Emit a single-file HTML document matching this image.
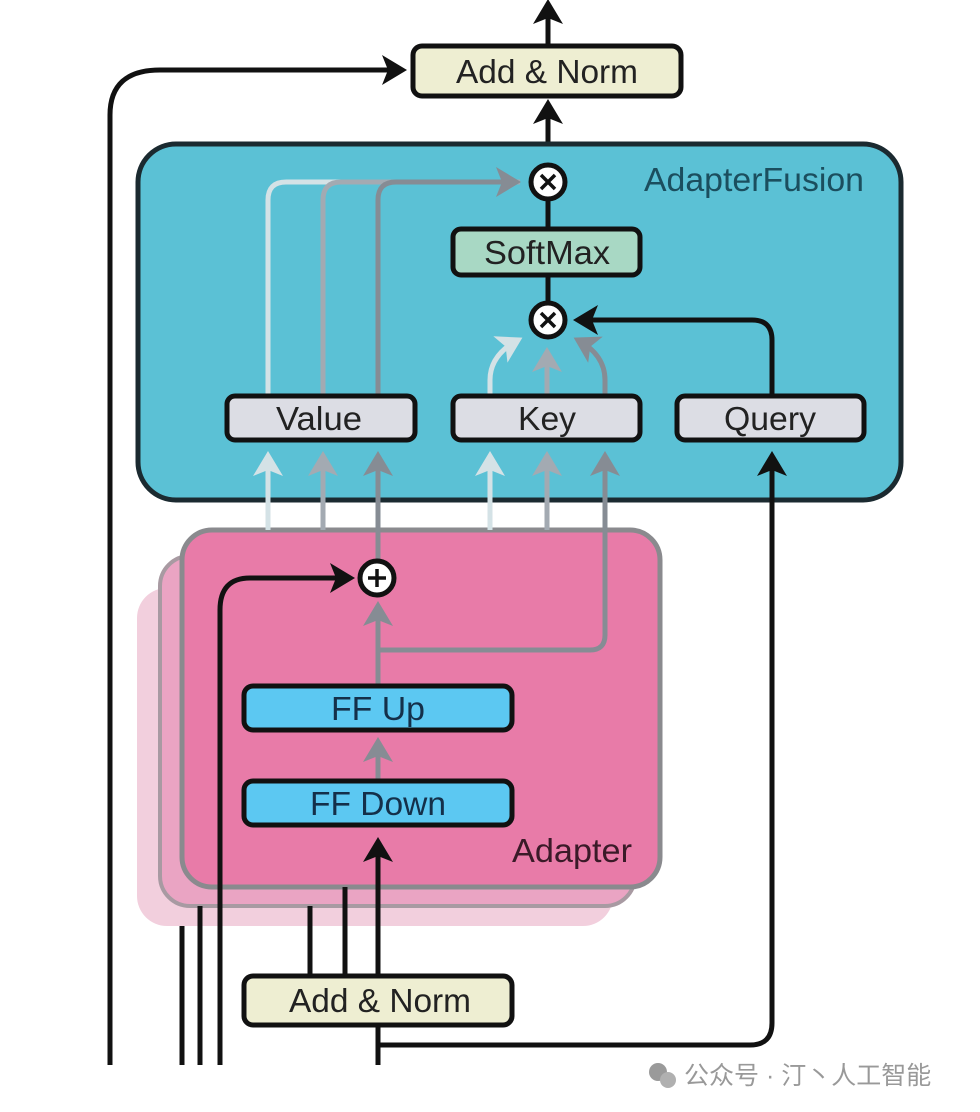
<!DOCTYPE html>
<html><head><meta charset="utf-8"><style>
body{margin:0;background:#fff;}
svg{display:block}
text{font-family:"Liberation Sans","Noto Sans CJK SC",sans-serif;}
.t{font-size:33px;fill:#222}
</style></head><body>
<svg width="980" height="1112" viewBox="0 0 980 1112" xmlns="http://www.w3.org/2000/svg">
<defs>
<marker id="ak" markerWidth="6" markerHeight="6" refX="4" refY="3" orient="auto" markerUnits="strokeWidth"><path d="M0,0 L5,3 L0,6 L1.2,3 z" fill="#111"/></marker>
<marker id="a1" markerWidth="6" markerHeight="6" refX="4" refY="3" orient="auto" markerUnits="strokeWidth"><path d="M0,0 L5,3 L0,6 L1.2,3 z" fill="#d4e2e6"/></marker>
<marker id="a2" markerWidth="6" markerHeight="6" refX="4" refY="3" orient="auto" markerUnits="strokeWidth"><path d="M0,0 L5,3 L0,6 L1.2,3 z" fill="#a3aab2"/></marker>
<marker id="a3" markerWidth="6" markerHeight="6" refX="4" refY="3" orient="auto" markerUnits="strokeWidth"><path d="M0,0 L5,3 L0,6 L1.2,3 z" fill="#868c94"/></marker>
</defs>

<line x1="548" y1="45" x2="548" y2="4" stroke="#111" stroke-width="5" marker-end="url(#ak)"/>
<path d="M110,1065 L110,115 Q110,70 160,70 L402,70" fill="none" stroke="#111" stroke-width="5" marker-end="url(#ak)"/>
<rect x="413" y="46" width="268" height="50" rx="9" fill="#eeeed2" stroke="#111" stroke-width="5"/>
<text x="547" y="83" class="t" text-anchor="middle" textLength="182" lengthAdjust="spacingAndGlyphs">Add &amp; Norm</text>
<line x1="548" y1="143" x2="548" y2="104" stroke="#111" stroke-width="5" marker-end="url(#ak)"/>

<rect x="138" y="144" width="763" height="356" rx="38" fill="#5bc1d5" stroke="#1b2a30" stroke-width="5"/>
<text x="754" y="191" class="t" style="fill:#1b4e5e" text-anchor="middle" textLength="220" lengthAdjust="spacingAndGlyphs">AdapterFusion</text>

<path d="M268,395 L268,200 Q268,182 286,182 L520,182" fill="none" stroke="#d4e2e6" stroke-width="5"/>
<path d="M323,395 L323,200 Q323,182 341,182 L520,182" fill="none" stroke="#a3aab2" stroke-width="5"/>
<path d="M378,395 L378,200 Q378,182 396,182 L516,182" fill="none" stroke="#868c94" stroke-width="5" marker-end="url(#a3)"/>
<path d="M490,395 L490,380 Q490,355 518,340" fill="none" stroke="#d4e2e6" stroke-width="5" marker-end="url(#a1)"/>
<line x1="547" y1="395" x2="547" y2="352" stroke="#a3aab2" stroke-width="5" marker-end="url(#a2)"/>
<path d="M605,395 L605,380 Q605,355 578,340" fill="none" stroke="#868c94" stroke-width="5" marker-end="url(#a3)"/>
<path d="M772,395 L772,340 Q772,320 752,320 L578,320" fill="none" stroke="#111" stroke-width="5" marker-end="url(#ak)"/>

<line x1="548" y1="200" x2="548" y2="302" stroke="#111" stroke-width="5"/>
<circle cx="548" cy="182" r="17" fill="#fff" stroke="#111" stroke-width="5"/>
<path d="M541,175 L555,189 M555,175 L541,189" stroke="#111" stroke-width="3.5"/>
<rect x="453" y="229" width="187" height="46" rx="8" fill="#a8d8c4" stroke="#111" stroke-width="5"/>
<text x="547" y="264" class="t" text-anchor="middle" textLength="126" lengthAdjust="spacingAndGlyphs">SoftMax</text>
<circle cx="548" cy="320" r="17" fill="#fff" stroke="#111" stroke-width="5"/>
<path d="M541,313 L555,327 M555,313 L541,327" stroke="#111" stroke-width="3.5"/>

<rect x="227" y="396" width="188" height="44" rx="8" fill="#dcdde4" stroke="#111" stroke-width="5"/>
<text x="319" y="430" class="t" text-anchor="middle" textLength="86" lengthAdjust="spacingAndGlyphs">Value</text>
<rect x="453" y="396" width="187" height="44" rx="8" fill="#dcdde4" stroke="#111" stroke-width="5"/>
<text x="547" y="430" class="t" text-anchor="middle" textLength="58" lengthAdjust="spacingAndGlyphs">Key</text>
<rect x="677" y="396" width="187" height="44" rx="8" fill="#dcdde4" stroke="#111" stroke-width="5"/>
<text x="770" y="430" class="t" text-anchor="middle" textLength="92" lengthAdjust="spacingAndGlyphs">Query</text>

<rect x="137" y="588" width="476" height="338" rx="30" fill="#f2cfdd"/>
<rect x="160" y="556" width="475" height="350" rx="30" fill="#eaa4c3" stroke="#a89aa2" stroke-width="4"/>
<rect x="182" y="530" width="478" height="357" rx="30" fill="#e87ba8" stroke="#8a8a8e" stroke-width="5"/>
<text x="572" y="862" class="t" style="fill:#3a1a28" text-anchor="middle" textLength="120" lengthAdjust="spacingAndGlyphs">Adapter</text>

<line x1="268" y1="530" x2="268" y2="456" stroke="#d4e2e6" stroke-width="5" marker-end="url(#a1)"/>
<line x1="323" y1="530" x2="323" y2="456" stroke="#a3aab2" stroke-width="5" marker-end="url(#a2)"/>
<line x1="378" y1="560" x2="378" y2="456" stroke="#868c94" stroke-width="5" marker-end="url(#a3)"/>
<line x1="490" y1="530" x2="490" y2="456" stroke="#d4e2e6" stroke-width="5" marker-end="url(#a1)"/>
<line x1="547" y1="530" x2="547" y2="456" stroke="#a3aab2" stroke-width="5" marker-end="url(#a2)"/>
<path d="M378,650 L590,650 Q605,650 605,635 L605,456" fill="none" stroke="#868c94" stroke-width="5" marker-end="url(#a3)"/>
<line x1="378" y1="685" x2="378" y2="606" stroke="#868c94" stroke-width="5" marker-end="url(#a3)"/>
<line x1="378" y1="780" x2="378" y2="742" stroke="#868c94" stroke-width="5" marker-end="url(#a3)"/>

<path d="M220,1065 L220,610 Q220,578 250,578 L350,578" fill="none" stroke="#111" stroke-width="5" marker-end="url(#ak)"/>
<circle cx="377" cy="578" r="17" fill="#fff" stroke="#111" stroke-width="5"/>
<path d="M377,569 L377,587 M368,578 L386,578" stroke="#111" stroke-width="3.5"/>

<rect x="244" y="686" width="268" height="44" rx="9" fill="#5cc8f2" stroke="#111" stroke-width="5"/>
<text x="378" y="720" class="t" style="fill:#14304a" text-anchor="middle" textLength="94" lengthAdjust="spacingAndGlyphs">FF Up</text>
<rect x="244" y="781" width="268" height="44" rx="9" fill="#5cc8f2" stroke="#111" stroke-width="5"/>
<text x="378" y="815" class="t" style="fill:#14304a" text-anchor="middle" textLength="136" lengthAdjust="spacingAndGlyphs">FF Down</text>

<line x1="378" y1="975" x2="378" y2="842" stroke="#111" stroke-width="5" marker-end="url(#ak)"/>
<line x1="345" y1="975" x2="345" y2="887" stroke="#111" stroke-width="5"/>
<line x1="310" y1="975" x2="310" y2="906" stroke="#111" stroke-width="5"/>
<line x1="200" y1="1065" x2="200" y2="906" stroke="#111" stroke-width="5"/>
<line x1="182" y1="1065" x2="182" y2="926" stroke="#111" stroke-width="5"/>
<rect x="244" y="976" width="268" height="49" rx="9" fill="#eeeed2" stroke="#111" stroke-width="5"/>
<text x="380" y="1012" class="t" text-anchor="middle" textLength="182" lengthAdjust="spacingAndGlyphs">Add &amp; Norm</text>
<line x1="378" y1="1025" x2="378" y2="1065" stroke="#111" stroke-width="5"/>
<path d="M378,1045 L750,1045 Q772,1045 772,1023 L772,456" fill="none" stroke="#111" stroke-width="5" marker-end="url(#ak)"/>

<circle cx="658" cy="1072" r="9" fill="#9a9a9a"/><circle cx="668" cy="1080" r="8" fill="#b0b0b0"/>
<text x="684" y="1084" font-size="25" fill="#999">公众号 · 汀丶人工智能</text>
</svg>
</body></html>
